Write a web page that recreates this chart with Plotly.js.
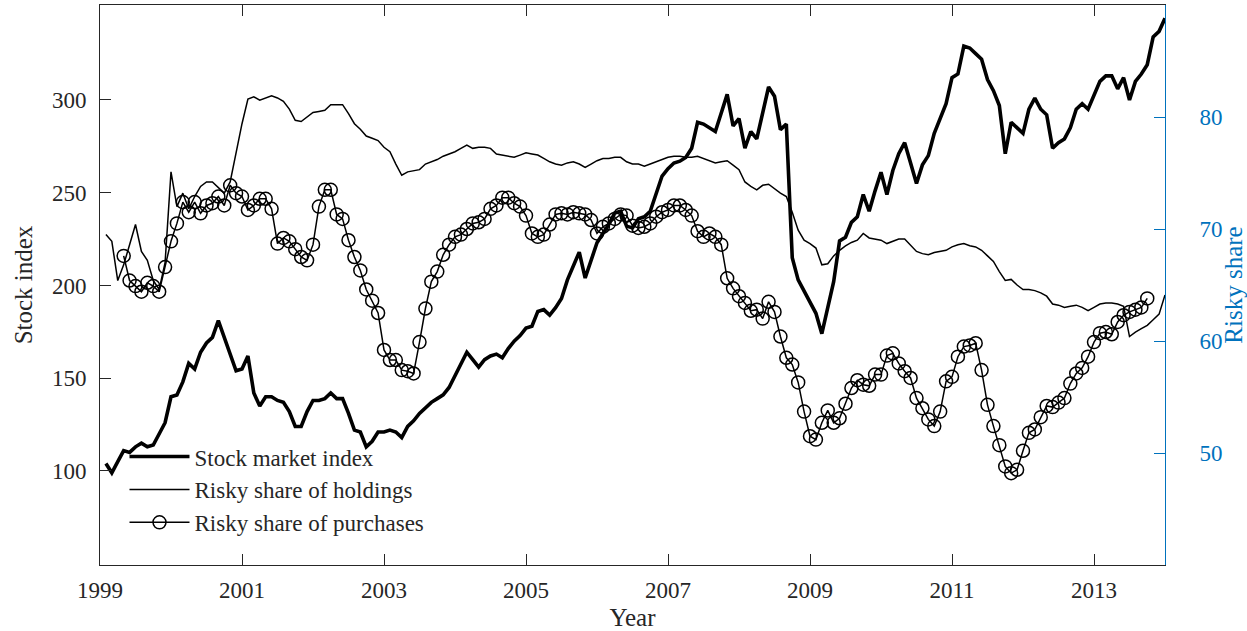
<!DOCTYPE html>
<html>
<head>
<meta charset="utf-8">
<script src="https://cdn.plot.ly/plotly-3.0.1.min.js"></script>
<style>html,body{margin:0;padding:0;background:#fff;}#chart{width:1247px;height:631px;}</style>
</head>
<body>
<div id="chart"></div>
<script>
// Monthly observations, Jan 1999 .. Dec 2013 (month k plotted at 1999 + k/12)
var startYear = 1999;
var nMonths = 180;

var stockIndex = [
 104, 99, 105, 111, 110, 113, 115, 113, 114, 120,
 126, 140, 141, 148, 158, 155, 164, 169, 172, 181,
 172, 163, 154, 155, 162, 142, 135, 140, 140, 138,
 137, 132, 124, 124, 132, 138, 138, 139, 142, 139,
 139, 131, 122, 121, 113, 116, 121, 121, 122, 121,
 118, 124, 127, 131, 134, 137, 139, 141, 145, 151,
 157, 164, 160, 156, 160, 162, 163, 161, 166, 170,
 173, 177, 178, 186, 187, 184, 188, 193, 203, 211,
 218, 204, 213, 223, 228, 233, 239, 240, 232, 231,
 236, 237, 240, 250, 259, 263, 266, 267, 269, 274,
 288, 287, 285, 283, 293, 303, 286, 290, 274, 283,
 279, 292, 307, 302, 284, 287, 215, 203, 197, 192,
 185, 174, 188, 202, 224, 226, 234, 237, 249, 240,
 251, 261, 249, 262, 271, 277, 266, 255, 265, 270,
 282, 290, 298, 312, 314, 329, 328, 325, 322, 311,
 305, 297, 271, 288, 285, 282, 295, 301, 295, 292,
 274, 277, 279, 285, 295, 298, 295, 302, 310, 313,
 313, 306, 312, 300, 310, 314, 319, 334, 337, 344
];

var riskyHoldings = [
 69.5, 68.9, 65.4, 66.8, 68.6, 70.4, 68.0, 67.2, 65.4, 64.6,
 67.0, 75.1, 72.0, 73.2, 71.8, 72.9, 73.8, 74.2, 74.2, 73.7,
 73.2, 74.2, 76.8, 79.4, 81.6, 81.8, 81.5, 81.7, 81.9, 81.7,
 81.4, 80.7, 79.7, 79.6, 80.0, 80.4, 80.5, 80.6, 81.1, 81.1,
 81.1, 80.3, 79.4, 78.9, 78.3, 78.1, 77.9, 77.3, 76.9, 75.8,
 74.8, 75.1, 75.2, 75.3, 75.8, 76.0, 76.2, 76.5, 76.7, 76.9,
 77.2, 77.5, 77.2, 77.3, 77.3, 77.2, 76.7, 76.6, 76.5, 76.4,
 76.6, 76.8, 76.7, 76.6, 76.3, 76.0, 75.8, 75.7, 75.9, 76.0,
 75.8, 75.5, 75.8, 76.1, 76.3, 76.3, 76.4, 76.4, 76.0, 75.8,
 75.8, 75.6, 75.8, 76.0, 76.2, 76.4, 76.5, 76.5, 76.4, 76.4,
 76.5, 76.3, 76.1, 75.9, 76.0, 76.1, 75.7, 75.3, 74.2, 73.8,
 73.5, 73.9, 74.0, 73.6, 73.2, 72.9, 71.5, 69.9, 69.0, 68.7,
 68.3, 66.8, 66.9, 67.6, 68.1, 68.5, 68.8, 69.0, 69.6, 69.2,
 69.1, 69.0, 68.7, 68.9, 69.1, 69.1, 68.5, 68.0, 67.8, 67.7,
 67.9, 68.0, 68.1, 68.4, 68.6, 68.7, 68.5, 68.4, 68.1, 67.6,
 67.1, 66.2, 65.4, 65.5, 65.0, 64.6, 64.6, 64.5, 64.3, 64.0,
 63.3, 63.2, 63.0, 63.1, 63.2, 63.0, 62.7, 63.0, 63.3, 63.4,
 63.4, 63.3, 63.1, 60.4, 60.8, 61.1, 61.4, 61.9, 62.4, 64.1
];

var riskyPurchases = [
 null, null, null, 67.6, 65.4, 64.9, 64.4, 65.2, 64.9, 64.4,
 66.6, 68.9, 70.5, 72.4, 71.5, 72.4, 71.4, 72.1, 72.3, 72.9,
 72.1, 73.9, 73.2, 72.9, 71.7, 72.1, 72.7, 72.7, 71.8, 68.7,
 69.2, 68.9, 68.2, 67.5, 67.2, 68.6, 72.0, 73.5, 73.5, 71.3,
 70.9, 69.0, 67.5, 66.3, 64.6, 63.6, 62.5, 59.2, 58.3, 58.3,
 57.4, 57.3, 57.1, 59.9, 62.9, 65.3, 66.2, 67.7, 68.6, 69.3,
 69.5, 70.0, 70.5, 70.6, 70.9, 71.8, 72.1, 72.8, 72.8, 72.3,
 72.0, 71.2, 69.6, 69.3, 69.5, 70.4, 71.3, 71.4, 71.3, 71.5,
 71.4, 71.3, 70.8, 69.6, 70.2, 70.5, 70.9, 71.3, 71.2, 70.3,
 70.1, 70.2, 70.5, 71.1, 71.5, 71.7, 72.1, 72.1, 71.7, 71.2,
 69.8, 69.3, 69.6, 69.3, 68.6, 65.6, 64.7, 64.0, 63.4, 62.7,
 62.8, 62.0, 63.5, 62.6, 60.4, 58.5, 57.9, 56.3, 53.7, 51.5,
 51.2, 52.7, 53.8, 52.7, 53.1, 54.4, 55.8, 56.5, 56.1, 56.0,
 57.0, 57.0, 58.7, 58.9, 58.0, 57.3, 56.7, 54.9, 54.0, 53.0,
 52.4, 53.7, 56.4, 56.8, 58.6, 59.5, 59.6, 59.8, 57.4, 54.3,
 52.4, 50.7, 48.8, 48.2, 48.5, 50.2, 51.8, 52.1, 53.2, 54.2,
 54.1, 54.5, 54.9, 56.2, 57.1, 57.6, 58.6, 59.9, 60.7, 60.8,
 60.6, 61.7, 62.3, 62.6, 62.8, 63.0, 63.8, null, null, null
];

var yearTicks = [1999, 2001, 2003, 2005, 2007, 2009, 2011, 2013];
var leftTicks = [100, 150, 200, 250, 300];
var rightTicks = [50, 60, 70, 80];
var seriesNames = ['Stock market index', 'Risky share of holdings', 'Risky share of purchases'];

var months = [];
for (var k = 1; k <= nMonths; k++) months.push(startYear + k / 12);

var FONT = 'Liberation Serif, Times New Roman, serif';
var AX = '#262626';
var BLUE = '#0072BD';

var traces = [
  {x: months, y: stockIndex, name: seriesNames[0], type: 'scatter', mode: 'lines',
   line: {color: '#000', width: 3.6}, yaxis: 'y'},
  {x: months, y: riskyHoldings, name: seriesNames[1], type: 'scatter', mode: 'lines',
   line: {color: '#000', width: 1.5}, yaxis: 'y2'},
  {x: months, y: riskyPurchases, name: seriesNames[2], type: 'scatter', mode: 'lines+markers',
   line: {color: '#000', width: 1.5},
   marker: {symbol: 'circle-open', size: 13, color: '#000', line: {color: '#000', width: 1.5}},
   yaxis: 'y2'}
];

var layout = {
  width: 1247, height: 631,
  margin: {l: 100, r: 82, t: 5, b: 66},
  paper_bgcolor: '#fff', plot_bgcolor: '#fff',
  font: {family: FONT, size: 23, color: AX},
  showlegend: true,
  legend: {x: 0.023, y: 0.232, xanchor: 'left', yanchor: 'top', bgcolor: 'rgba(0,0,0,0)',
           font: {family: FONT, size: 23, color: AX}, itemwidth: 60, tracegroupgap: 0},
  xaxis: {range: [1999, 2014], tickvals: yearTicks, ticktext: yearTicks.map(String),
          ticks: 'inside', ticklen: 11, tickcolor: AX, tickwidth: 1,
          showline: true, linecolor: AX, linewidth: 1, mirror: 'ticks',
          showgrid: false, zeroline: false, ticklabelstandoff: 4,
          title: {text: 'Year', font: {family: FONT, size: 25, color: AX}, standoff: 8}},
  yaxis: {range: [49.3, 351.2], tickvals: leftTicks, ticks: 'inside', ticklen: 11,
          tickcolor: AX, showline: true, linecolor: AX, linewidth: 1,
          showgrid: false, zeroline: false, ticklabelstandoff: 8,
          title: {text: 'Stock index', font: {family: FONT, size: 25, color: AX}, standoff: 12}},
  yaxis2: {overlaying: 'y', side: 'right', range: [40, 90], tickvals: rightTicks,
           ticks: 'inside', ticklen: 11, tickcolor: BLUE, showline: true, linecolor: BLUE, linewidth: 1,
           showgrid: false, zeroline: false, ticklabelstandoff: 29,
           tickfont: {family: FONT, size: 23, color: BLUE},
           title: {text: 'Risky share', font: {family: FONT, size: 25, color: BLUE}, standoff: 0}}
};

Plotly.newPlot('chart', traces, layout, {displayModeBar: false, staticPlot: true});
</script>
</body>
</html>
